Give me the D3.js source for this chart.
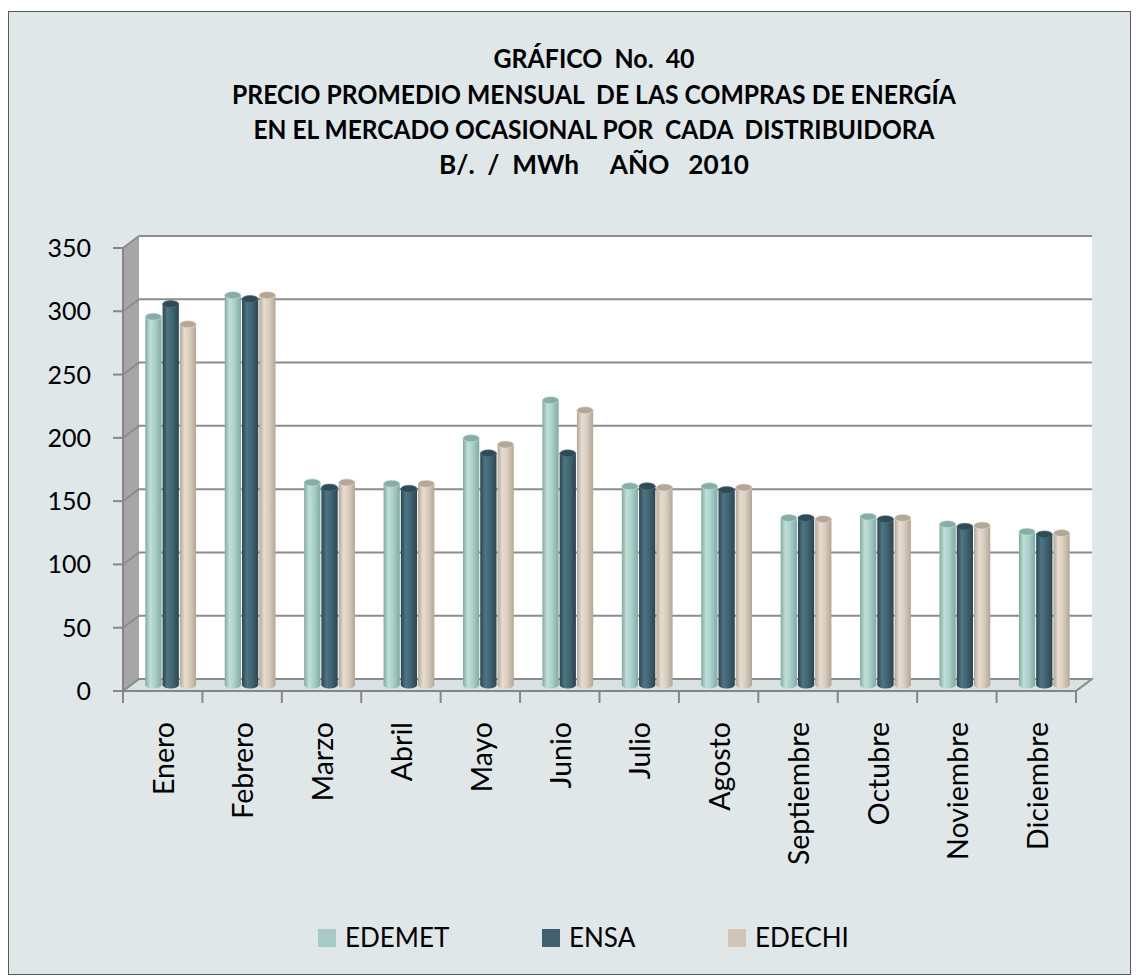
<!DOCTYPE html>
<html>
<head>
<meta charset="utf-8">
<script src="https://cdnjs.cloudflare.com/ajax/libs/d3/7.8.5/d3.min.js"></script>
<style>
  body { margin: 0; background: #fff; }
  svg { display: block; }
  text { font-family: Lato, "Open Sans", sans-serif; fill: #000; white-space: pre; }
</style>
</head>
<body>
<svg id="chart" width="1136" height="978"></svg>
<script>
// chart data
var months = ["Enero", "Febrero", "Marzo", "Abril", "Mayo", "Junio", "Julio",
              "Agosto", "Septiembre", "Octubre", "Noviembre", "Diciembre"];
var seriesNames = ["EDEMET", "ENSA", "EDECHI"];
var edemet = [291, 308, 160, 159, 195, 225, 157, 157, 132, 133, 127, 121];
var ensa   = [301, 305, 156, 155, 183, 183, 157, 154, 132, 131, 125, 119];
var edechi = [285, 308, 160, 159, 190, 217, 156, 156, 131, 132, 126, 120];
var yTicks = [0, 50, 100, 150, 200, 250, 300, 350];
var titleLines = ["GRÁFICO  No.  40",
                  "PRECIO PROMEDIO MENSUAL  DE LAS COMPRAS DE ENERGÍA",
                  "EN EL MERCADO OCASIONAL POR  CADA  DISTRIBUIDORA",
                  "B/.  /  MWh     AÑO   2010"];

var svg = d3.select("#chart");

// colours for each series: base / dark edge / light highlight / cap
var colors = {
  EDEMET: { base: "#a9d0c8", dark: "#82aaa2", light: "#bfe0d9", cap: "#86aea6", legend: "#a6cbc4" },
  ENSA:   { base: "#416572", dark: "#2a4652", light: "#4f7482", cap: "#2e4c57", legend: "#40606e" },
  EDECHI: { base: "#d9cdbd", dark: "#b3a696", light: "#e6dccf", cap: "#b4a797", legend: "#d3c5b6" }
};

// 3d offsets: back wall and the middle row where the cylinders stand
var depthX = 16, depthY = -12;
var midX = 8, midY = -6;

var x = d3.scaleBand().domain(months).range([123, 1076]);
var inner = d3.scaleBand().domain(seriesNames).range([0, x.bandwidth()])
  .paddingInner(0).paddingOuter(0.8);
var y = d3.scaleLinear().domain([0, 350]).range([691, 248]);

// outer frame
svg.append("rect")
  .attr("x", 8.5).attr("y", 11.5).attr("width", 1122).attr("height", 963)
  .attr("fill", "#dfe7e8").attr("stroke", "#5a5a5a").attr("stroke-width", 1);

// title
svg.append("g").selectAll("text")
  .data(titleLines)
  .enter().append("text")
  .attr("x", 594)
  .attr("y", function (d, i) { return [68, 104, 139, 174][i]; })
  .attr("text-anchor", "middle")
  .attr("font-size", 27)
  .attr("font-weight", "bold")
  .attr("textLength", function (d, i) { return [201, 724, 681, 310][i]; })
  .attr("lengthAdjust", "spacingAndGlyphs")
  .text(function (d) { return d; });

var x0 = x.range()[0], x1 = x.range()[1];
var yTop = y(350), yBase = y(0);

// left side wall
svg.append("polygon")
  .attr("points", [[x0, yTop], [x0 + depthX, yTop + depthY],
                   [x0 + depthX, yBase + depthY], [x0, yBase]].join(" "))
  .attr("fill", "#a6a6a6");

// back wall
svg.append("rect")
  .attr("x", x0 + depthX).attr("y", yTop + depthY)
  .attr("width", x1 - x0).attr("height", yBase - yTop)
  .attr("fill", "#ffffff");

// floor
svg.append("polygon")
  .attr("points", [[x0, yBase], [x1, yBase], [x1 + depthX, yBase + depthY],
                   [x0 + depthX, yBase + depthY]].join(" "))
  .attr("fill", "#d9e1e2").attr("stroke", "#8c8c8c").attr("stroke-width", 1.5);

// gridlines on the back wall and their diagonals on the side wall
var grid = svg.append("g").attr("stroke", "#8c8c8c").attr("stroke-width", 2);
grid.selectAll("line.back")
  .data(yTicks)
  .enter().append("line").attr("class", "back")
  .attr("x1", x0 + depthX).attr("x2", x1 + depthX)
  .attr("y1", function (d) { return y(d) + depthY; })
  .attr("y2", function (d) { return y(d) + depthY; });
grid.selectAll("line.side")
  .data(yTicks)
  .enter().append("line").attr("class", "side")
  .attr("x1", x0).attr("x2", x0 + depthX)
  .attr("y1", function (d) { return y(d); })
  .attr("y2", function (d) { return y(d) + depthY; });
// right edge of the floor
grid.append("line")
  .attr("x1", x1).attr("y1", yBase).attr("x2", x1 + depthX).attr("y2", yBase + depthY);

// gradients for the cylinders
var defs = svg.append("defs");
seriesNames.forEach(function (s) {
  var g = defs.append("linearGradient").attr("id", "grad-" + s)
    .attr("x1", "0%").attr("x2", "100%").attr("y1", "0%").attr("y2", "0%");
  g.append("stop").attr("offset", "0%").attr("stop-color", colors[s].dark);
  g.append("stop").attr("offset", "30%").attr("stop-color", colors[s].light);
  g.append("stop").attr("offset", "60%").attr("stop-color", colors[s].base);
  g.append("stop").attr("offset", "100%").attr("stop-color", colors[s].dark);
});

// flatten into one record per cylinder
var values = { EDEMET: edemet, ENSA: ensa, EDECHI: edechi };
var bars = [];
months.forEach(function (m, i) {
  seriesNames.forEach(function (s) {
    bars.push({ month: m, series: s, value: values[s][i] });
  });
});

var bw = inner.bandwidth();
var ry = 3.5;
var barG = svg.append("g").selectAll("g")
  .data(bars)
  .enter().append("g")
  .attr("transform", function (d) {
    return "translate(" + (x(d.month) + inner(d.series) + midX) + ",0)";
  });

barG.append("ellipse")
  .attr("cx", bw / 2).attr("cy", yBase + midY)
  .attr("rx", bw / 2 - 0.5).attr("ry", ry)
  .attr("fill", function (d) { return "url(#grad-" + d.series + ")"; });
barG.append("rect")
  .attr("x", 0.5).attr("width", bw - 1)
  .attr("y", function (d) { return y(d.value) + midY; })
  .attr("height", function (d) { return yBase - y(d.value); })
  .attr("fill", function (d) { return "url(#grad-" + d.series + ")"; });
barG.append("ellipse")
  .attr("cx", bw / 2)
  .attr("cy", function (d) { return y(d.value) + midY; })
  .attr("rx", bw / 2 - 0.5).attr("ry", ry)
  .attr("fill", function (d) { return colors[d.series].cap; })
  .attr("stroke", function (d) { return colors[d.series].light; })
  .attr("stroke-width", 0.6);

// front axes
var axisG = svg.append("g").attr("stroke", "#868686").attr("stroke-width", 2);
axisG.append("line").attr("x1", x0).attr("x2", x0).attr("y1", yTop).attr("y2", yBase);
axisG.append("line").attr("x1", x0 - 10).attr("x2", x1).attr("y1", yBase).attr("y2", yBase);
axisG.selectAll("line.ytick")
  .data(yTicks)
  .enter().append("line").attr("class", "ytick")
  .attr("x1", x0 - 10).attr("x2", x0)
  .attr("y1", function (d) { return y(d); })
  .attr("y2", function (d) { return y(d); });
var boundaries = months.map(function (m) { return x(m); }).concat([x1]);
axisG.selectAll("line.xtick")
  .data(boundaries)
  .enter().append("line").attr("class", "xtick")
  .attr("x1", function (d) { return d; }).attr("x2", function (d) { return d; })
  .attr("y1", yBase).attr("y2", yBase + 12);

// value labels
svg.append("g").selectAll("text")
  .data(yTicks)
  .enter().append("text")
  .attr("x", 91)
  .attr("y", function (d) { return y(d); })
  .attr("dy", "0.36em")
  .attr("text-anchor", "end")
  .attr("font-size", 25)
  .text(function (d) { return d; });

// month labels, rotated
svg.append("g").selectAll("text")
  .data(months)
  .enter().append("text")
  .attr("transform", function (d) {
    return "translate(" + (x(d) + x.bandwidth() / 2 + 1) + ",722) rotate(-90)";
  })
  .attr("dy", "0.36em")
  .attr("text-anchor", "end")
  .attr("font-size", 28.5)
  .text(function (d) { return d; });

// legend
var legendX = [318, 542, 728];
var legend = svg.append("g").selectAll("g")
  .data(seriesNames)
  .enter().append("g")
  .attr("transform", function (d, i) { return "translate(" + legendX[i] + ",929)"; });
legend.append("rect")
  .attr("width", 18).attr("height", 18)
  .attr("fill", function (d) { return colors[d].legend; });
legend.append("text")
  .attr("x", 27).attr("y", 18)
  .attr("font-size", 26)
  .text(function (d) { return d; });
</script>
</body>
</html>
